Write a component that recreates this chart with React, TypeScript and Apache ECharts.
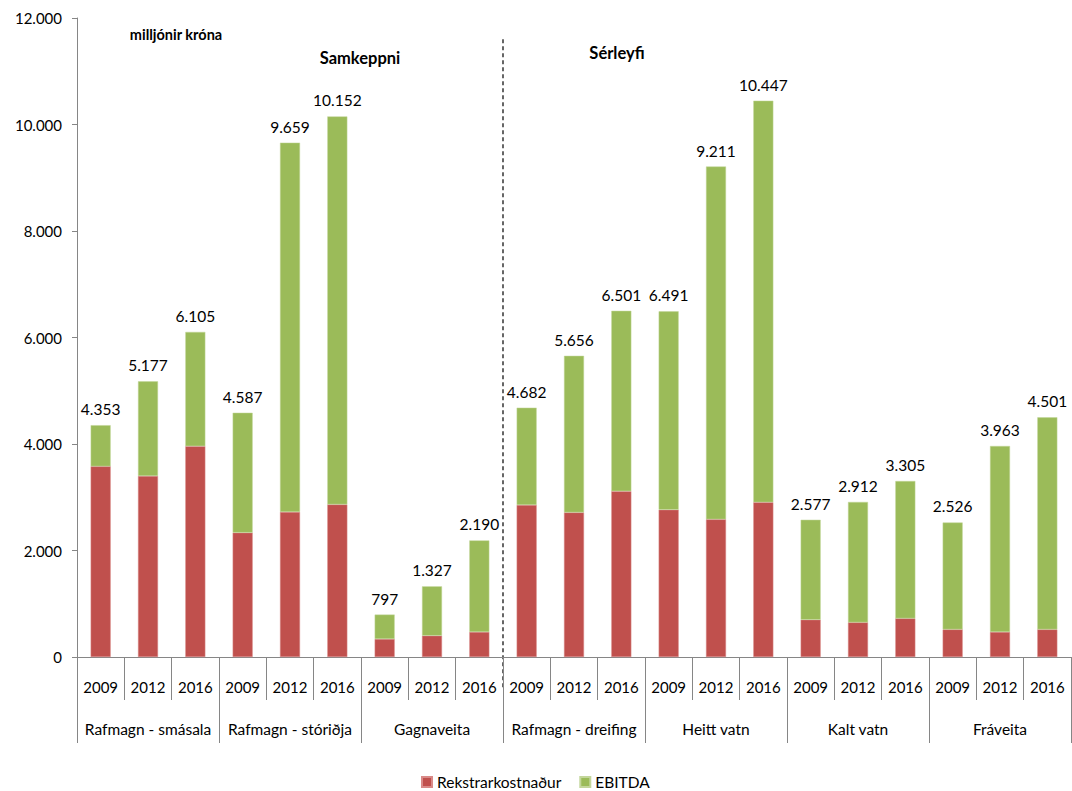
import React, { useEffect, useRef } from "react";
import * as echarts from "echarts";

const groups = ["Rafmagn - smásala", "Rafmagn - stóriðja", "Gagnaveita", "Rafmagn - dreifing", "Heitt vatn", "Kalt vatn", "Fráveita"];
const years = ["2009", "2012", "2016"];
const totals = [4353, 5177, 6105, 4587, 9659, 10152, 797, 1327, 2190, 4682, 5656, 6501, 6491, 9211, 10447, 2577, 2912, 3305, 2526, 3963, 4501];
const rekstrarkostnadur = [3580, 3400, 3960, 2335, 2725, 2865, 338, 400, 470, 2855, 2715, 3115, 2765, 2585, 2905, 700, 650, 725, 518, 470, 518];
const seriesNames = ["Rekstrarkostnaður", "EBITDA"];
const yTicks = { min: 0, max: 12000, interval: 2000 };

const categories: string[] = [];
groups.forEach(() => years.forEach((y) => categories.push(y)));
const ebitda = totals.map((t, i) => t - rekstrarkostnadur[i]);

const fmt = (v: number) => String(Math.round(v)).replace(/\B(?=(\d{3})+(?!\d))/g, ".");

const FONT = "Lato";
const AXIS_GREY = "#868686";

export default function App() {
  const ref = useRef<HTMLDivElement>(null);
  useEffect(() => {
    if (!ref.current) return;
    const chart = echarts.init(ref.current, undefined, { renderer: "svg" });
    chart.setOption({
      animation: false,
      textStyle: { fontFamily: FONT },
      grid: { left: 77, right: 1, top: 18, bottom: 134, containLabel: false },
      legend: {
        data: seriesNames,
        left: 421,
        top: 774,
        padding: 0,
        icon: "rect",
        itemWidth: 10,
        itemHeight: 10,
        itemGap: 18,
        textStyle: { fontFamily: FONT, fontSize: 15.5, lineHeight: 16, color: "#000" },
      },
      xAxis: [
        {
          type: "category",
          data: categories,
          position: "bottom",
          axisLine: { show: true, lineStyle: { color: AXIS_GREY } },
          axisTick: { show: true, interval: 0, length: 43, lineStyle: { color: AXIS_GREY } },
          axisLabel: { interval: 0, margin: 22, fontFamily: FONT, fontSize: 15, color: "#000" },
        },
        {
          type: "category",
          data: groups,
          position: "bottom",
          offset: 43,
          axisLine: { show: false },
          axisTick: { show: true, interval: 0, length: 43, lineStyle: { color: AXIS_GREY } },
          axisLabel: { interval: 0, margin: 21, fontFamily: FONT, fontSize: 15.5, color: "#000" },
        },
      ],
      yAxis: {
        type: "value",
        min: yTicks.min,
        max: yTicks.max,
        interval: yTicks.interval,
        splitLine: { show: false },
        axisLine: { show: true, lineStyle: { color: AXIS_GREY } },
        axisTick: { show: true, length: 5, lineStyle: { color: AXIS_GREY } },
        axisLabel: { margin: 15, fontFamily: FONT, fontSize: 15, color: "#000", formatter: (v: number) => fmt(v) },
      },
      series: [
        {
          name: seriesNames[0],
          type: "bar",
          stack: "total",
          xAxisIndex: 0,
          barWidth: 20,
          data: rekstrarkostnadur,
          itemStyle: { color: "#C0504D", borderColor: "#D98A88", borderWidth: 0.5 },
        },
        {
          name: seriesNames[1],
          type: "bar",
          stack: "total",
          xAxisIndex: 0,
          barWidth: 20,
          data: ebitda,
          itemStyle: { color: "#9BBB59", borderColor: "#C3D69B", borderWidth: 0.5 },
          label: {
            show: true,
            position: "top",
            distance: 8,
            fontFamily: FONT,
            fontSize: 15.5,
            color: "#000",
            formatter: (p: any) => fmt(totals[p.dataIndex]),
          },
        },
      ],
    });

    const x8 = chart.convertToPixel({ xAxisIndex: 0 }, 8) as number;
    const x9 = chart.convertToPixel({ xAxisIndex: 0 }, 9) as number;
    const xDiv = (x8 + x9) / 2;
    const yTop = chart.convertToPixel({ yAxisIndex: 0 }, 11600) as number;
    const yZero = chart.convertToPixel({ yAxisIndex: 0 }, 0) as number;

    chart.setOption({
      graphic: [
        {
          type: "line",
          shape: { x1: xDiv, y1: yTop, x2: xDiv, y2: yZero + 32 },
          style: { stroke: "#000", lineWidth: 1.2, lineDash: [4, 3] },
          silent: true,
        },
        {
          type: "text",
          x: 176,
          y: 34,
          style: { text: "milljónir króna", textAlign: "center", textVerticalAlign: "middle", fontFamily: FONT, fontSize: 14.5, fontWeight: "bold", fill: "#000" },
        },
        {
          type: "text",
          x: 360,
          y: 58,
          style: { text: "Samkeppni", textAlign: "center", textVerticalAlign: "middle", fontFamily: FONT, fontSize: 16.5, fontWeight: "bold", fill: "#000" },
        },
        {
          type: "text",
          x: 617,
          y: 53,
          style: { text: "Sérleyfi", textAlign: "center", textVerticalAlign: "middle", fontFamily: FONT, fontSize: 16.5, fontWeight: "bold", fill: "#000" },
        },
      ],
    });

    return () => chart.dispose();
  }, []);
  return <div ref={ref} style={{ position: "fixed", left: 0, top: 0, width: 1072, height: 791, background: "#fff" }} />;
}
